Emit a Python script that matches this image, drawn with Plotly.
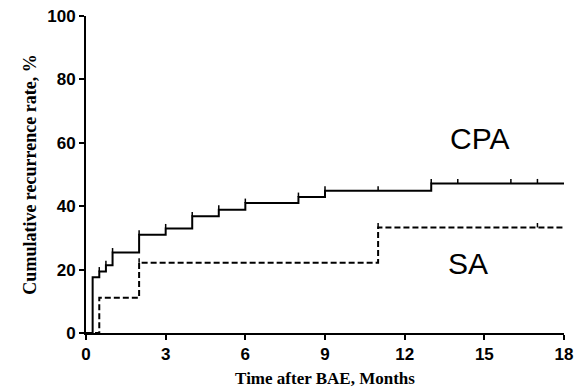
import plotly.graph_objects as go

# CPA group: step times (months) and cumulative recurrence (%)
cpa_times = [0, 0.25, 0.5, 0.75, 1, 2, 3, 4, 5, 6, 8, 9, 13, 18]
cpa_rates = [0, 17.6, 19.4, 21.4, 25.4, 31.0, 33.0, 36.8, 38.9, 41.0, 42.9, 44.9, 47.2, 47.2]
cpa_censor_times = [0.5, 0.75, 1, 2, 3, 4, 5, 6, 8, 9, 11, 13, 14, 16, 17]

# SA group
sa_times = [0, 0.5, 2, 11, 18]
sa_rates = [0, 11.1, 22.2, 33.3, 33.3]
sa_censor_times = [2, 11, 17]

x_ticks = [0, 3, 6, 9, 12, 15, 18]
y_ticks = [0, 20, 40, 60, 80, 100]


def level_at(times, rates, t):
    v = 0
    for ti, r in zip(times, rates):
        if ti <= t:
            v = r
    return v


def censor_segments(times, rates, ctimes, h=1.4):
    xs, ys = [], []
    for t in ctimes:
        lv = level_at(times, rates, t)
        xs += [t, t, None]
        ys += [lv, lv + h, None]
    return xs, ys


fig = go.Figure()

fig.add_trace(go.Scatter(x=cpa_times, y=cpa_rates, mode="lines",
                         line=dict(shape="hv", color="black", width=2),
                         showlegend=False, cliponaxis=False))
cx, cy = censor_segments(cpa_times, cpa_rates, cpa_censor_times)
fig.add_trace(go.Scatter(x=cx, y=cy, mode="lines",
                         line=dict(color="black", width=1.5),
                         showlegend=False, cliponaxis=False))

fig.add_trace(go.Scatter(x=sa_times, y=sa_rates, mode="lines",
                         line=dict(shape="hv", color="black", width=2, dash="6px,3px"),
                         showlegend=False, cliponaxis=False))
sx, sy = censor_segments(sa_times, sa_rates, sa_censor_times)
fig.add_trace(go.Scatter(x=sx, y=sy, mode="lines",
                         line=dict(color="black", width=1.5),
                         showlegend=False, cliponaxis=False))

fig.add_annotation(x=14.8, y=61.3, text="CPA", showarrow=False,
                   font=dict(family="Liberation Sans, Arial", size=30, color="black"))
fig.add_annotation(x=14.4, y=22, text="SA", showarrow=False,
                   font=dict(family="Liberation Sans, Arial", size=30, color="black"))

tickfont = dict(family="Liberation Sans, Arial", size=17, color="black")

# page body has an 8px default margin, so the figure is sized/positioned to compensate
fig.update_layout(
    width=577, height=381,
    margin=dict(l=78, r=21, t=8, b=56),
    paper_bgcolor="white", plot_bgcolor="white",
    xaxis=dict(range=[0, 18], tickvals=x_ticks,
               ticktext=[f"<b>{v}</b>" for v in x_ticks],
               showline=True, linecolor="black", automargin=False,
               ticklabeloverflow="allow",
               linewidth=2, ticks="outside", ticklen=5, tickwidth=2, tickcolor="black",
               showgrid=False, zeroline=False, tickfont=tickfont,
               title=dict(text="<b>Time after BAE, Months</b>", standoff=9,
                          font=dict(family="Liberation Serif, Times New Roman", size=17, color="black"))),
    yaxis=dict(range=[0, 100], tickvals=y_ticks,
               ticktext=[f"<b>{v}</b>" for v in y_ticks],
               showline=True, linecolor="black", automargin=False,
               ticklabeloverflow="allow",
               linewidth=2, ticks="outside", ticklen=5, tickwidth=2, tickcolor="black",
               showgrid=False, zeroline=False, tickfont=tickfont,
               title=dict(text="<b>Cumulative recurrence rate, %</b>", standoff=6,
                          font=dict(family="Liberation Serif, Times New Roman", size=18, color="black"))),
)

fig.write_html("out.html")
